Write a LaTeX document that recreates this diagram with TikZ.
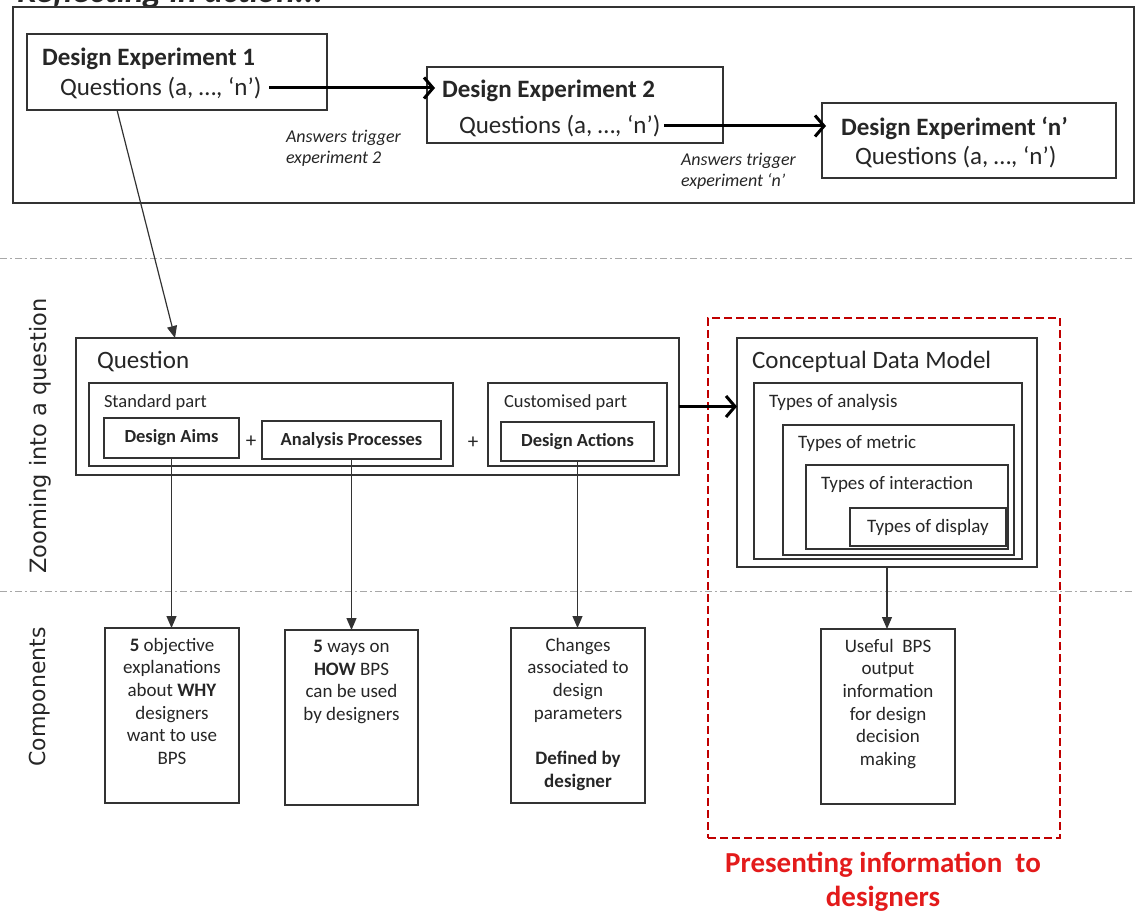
\documentclass[tikz,border=0pt]{standalone}
\usepackage{fontspec}
\setmainfont{Carlito}
\newfontfamily\sidefont{DejaVu Sans}
\usetikzlibrary{arrows.meta}
\definecolor{lc}{HTML}{333333}
\definecolor{dred}{HTML}{C00000}
\definecolor{tred}{HTML}{E31B1B}
\definecolor{sepgray}{HTML}{A8A8A8}
\newcommand{\fsz}[2]{\fontsize{#1}{#2}\selectfont}
\begin{document}
\begin{tikzpicture}[x=1pt,y=-1pt,
  bx/.style={draw=lc, line width=1.3pt, inner sep=0pt, outer sep=0pt, anchor=north west},
  txt/.style={inner sep=0pt, outer sep=0pt, text=black!85},
  thickarr/.style={line width=3pt, draw=black, -{Straight Barb[length=9pt,width=21pt,line width=3pt]}},
  thinarr/.style={line width=1.2pt, draw=lc, -{Triangle[length=12pt,width=10pt]}},
  sep/.style={draw=sepgray, line width=1pt, dash pattern=on 7pt off 3pt on 2pt off 3pt},
  big/.style={font=\fsz{25}{30}},
  bigb/.style={font=\bfseries\fsz{25}{30}},
  mid/.style={font=\fsz{18.5}{22}},
  midb/.style={font=\bfseries\fsz{18.5}{22}},
  comp/.style={txt, anchor=north, align=center, font=\fsz{19}{22.7}},
]
\useasboundingbox (0,0) rectangle (1135,912);

% title (partly cut off by the page edge, as in the reference)
\node[txt, anchor=base west, font=\bfseries\itshape\fsz{35}{40}] (title) at (17,3) {Reflecting in action...};

% separators
\draw[sep] (0,258) -- (1135,258);
\draw[sep] (0,591) -- (1135,591);

% top frame
\node[bx, minimum width=1121pt, minimum height=196pt] (frame) at (13,7) {};

% design experiments
\node[bx, minimum width=300pt, minimum height=76pt] (de1) at (27,34) {};
\node[txt, bigb, anchor=west] (de1t) at (42,59) {Design Experiment 1};
\node[txt, big, anchor=west] (de1q) at (60,88) {Questions (a, \dots, ‘n’)};

\node[bx, minimum width=296pt, minimum height=76pt] (de2) at (427,67) {};
\node[txt, bigb, anchor=west] (de2t) at (442,91) {Design Experiment 2};
\node[txt, big, anchor=west] (de2q) at (459,126) {Questions (a, \dots, ‘n’)};

\node[bx, minimum width=294pt, minimum height=75pt] (den) at (822,103) {};
\node[txt, bigb, anchor=west] (dent) at (841,128) {Design Experiment ‘n’};
\node[txt, big, anchor=west] (denq) at (855,157) {Questions (a, \dots, ‘n’)};

\node[txt, anchor=west, align=left, font=\itshape\fsz{18}{21}] (ans2) at (286,148) {Answers trigger\\experiment 2};
\node[txt, anchor=west, align=left, font=\itshape\fsz{18}{21}] (ansn) at (681,171) {Answers trigger\\experiment ‘n’};

\draw[thickarr] ([xshift=8pt]de1q.east) -- ([xshift=8pt]de1q.east -| de2.west);
\draw[thickarr] ([xshift=4pt]de2q.east) -- ([xshift=4pt]de2q.east -| den.west);

% side labels
\node[txt, rotate=90, font=\sidefont\fsz{22.5}{27}] (zlab) at (40,436) {Zooming into a question};
\node[txt, rotate=90, font=\sidefont\fsz{22}{26}] (clab) at (40,697) {Components};

% question
\node[bx, minimum width=603pt, minimum height=137pt] (question) at (76,338) {};
\node[txt, big, anchor=west] (questiont) at (97,362) {Question};
\node[bx, minimum width=364pt, minimum height=83pt] (std) at (89,383) {};
\node[txt, mid, anchor=west] (stdt) at (104,403) {Standard part};
\node[bx, minimum width=135pt, minimum height=40pt] (aims) at (104,418) {};
\node[txt, midb] (aimst) at (aims.center) {Design Aims};
\node[txt, font=\fsz{21}{24}] (plus1) at (251,442) {+};
\node[bx, minimum width=179pt, minimum height=38pt] (anal) at (262,421) {};
\node[txt, midb] (analt) at (anal.center) {Analysis Processes};
\node[txt, font=\fsz{21}{24}] (plus2) at (473,443) {+};
\node[bx, minimum width=179pt, minimum height=83pt] (cust) at (488,383) {};
\node[txt, mid, anchor=west] (custt) at (504,403) {Customised part};
\node[bx, minimum width=153pt, minimum height=39pt] (act) at (501,422) {};
\node[txt, midb] (actt) at (act.center) {Design Actions};

\coordinate (s1) at (117,110);
\coordinate (e1) at (175,338);
\draw[thinarr] (s1) -- (e1);

% presenting information
\node[draw=dred, line width=2.4pt, dash pattern=on 8pt off 4pt, inner sep=0pt, anchor=north west,
      minimum width=352pt, minimum height=520pt] (pres) at (707,317) {};
\node[bx, minimum width=300pt, minimum height=229pt] (cdm) at (737,338) {};
\node[txt, big, anchor=west] (cdmt) at (752,362) {Conceptual Data Model};
\node[bx, minimum width=268pt, minimum height=176pt] (toa) at (754,383) {};
\node[txt, font=\fsz{19}{23}, anchor=west] (toat) at (769,402) {Types of analysis};
\node[bx, minimum width=231pt, minimum height=130pt] (tom) at (783,425) {};
\node[txt, font=\fsz{19}{23}, anchor=west] (tomt) at (798,443) {Types of metric};
\node[bx, minimum width=202pt, minimum height=84pt] (toi) at (806,465) {};
\node[txt, font=\fsz{19}{23}, anchor=west] (toit) at (821,484) {Types of interaction};
\node[bx, minimum width=156pt, minimum height=38pt] (tod) at (850,508) {};
\node[txt, font=\fsz{19}{23}] (todt) at (tod.center) {Types of display};

\draw[thickarr] (question.east) -- (question.east -| cdm.west);

% components
\node[bx, minimum width=134pt, minimum height=175pt] (c1) at (105,628) {};
\node[bx, minimum width=133pt, minimum height=175pt] (c2) at (285,630) {};
\node[bx, minimum width=134pt, minimum height=175pt] (c3) at (511,628) {};
\node[bx, minimum width=134pt, minimum height=175pt] (c4) at (821,629) {};

\node[comp] (c1t) at (172,638) {\textbf{5} objective\\explanations\\about \textbf{WHY}\\designers\\want to use\\BPS};
\node[comp] (c2t) at (351.5,640) {\textbf{5} ways on\\\textbf{HOW} BPS\\can be used\\by designers};
\node[comp] (c3t) at (578,638) {Changes\\associated to\\design\\parameters\\[23pt]\textbf{Defined by}\\\textbf{designer}};
\node[comp] (c4t) at (888,639) {Useful~~BPS\\output\\information\\for design\\decision\\making};

\draw[thinarr] (aims.south) -- (aims.south |- c1.north);
\draw[thinarr] (anal.south) -- (anal.south |- c2.north);
\draw[thinarr] (act.south) -- (act.south |- c3.north);
\draw[thinarr] (cdm.south) -- (cdm.south |- c4.north);

\node[txt, align=center, text=tred, font=\bfseries\fsz{29}{34}] (prest) at (883,882) {Presenting information~~to\\designers};
\end{tikzpicture}
\end{document}
